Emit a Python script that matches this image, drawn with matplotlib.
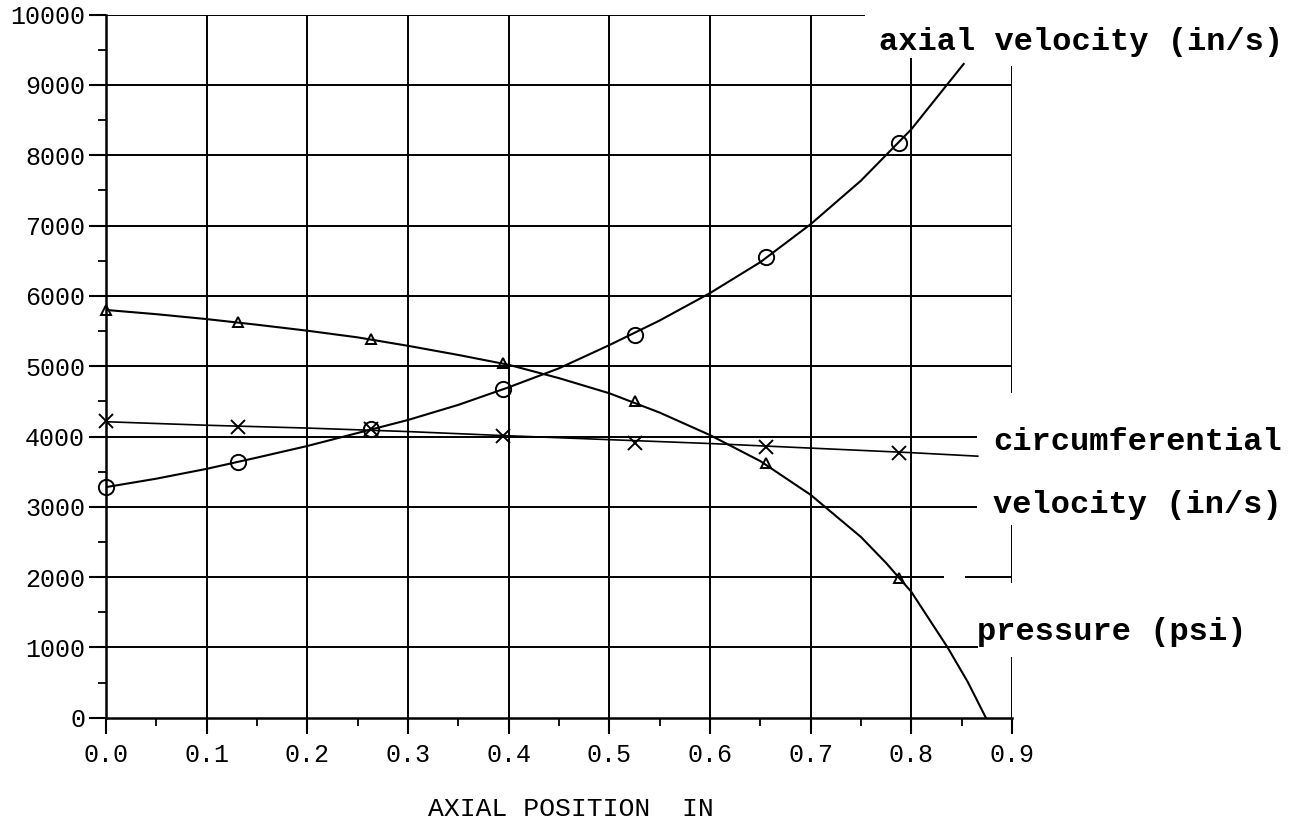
import numpy as np
import matplotlib
matplotlib.use("Agg")
import matplotlib.pyplot as plt
from matplotlib.ticker import MultipleLocator

# measured points (markers)
x_pts = [0.0, 0.131, 0.263, 0.394, 0.525, 0.656, 0.788]
axial_pts = [3280, 3640, 4110, 4670, 5450, 6550, 8170]
pressure_pts = [5800, 5630, 5390, 5050, 4510, 3630, 1990]
circ_pts = [4220, 4140, 4100, 4010, 3910, 3850, 3760]

# fitted curves
axial_cx = [0.0, 0.05, 0.1, 0.15, 0.2, 0.25, 0.3, 0.35, 0.4, 0.45, 0.5,
            0.55, 0.6, 0.65, 0.7, 0.75, 0.8, 0.852]
axial_cy = [3280, 3400, 3540, 3700, 3865, 4050, 4235, 4450, 4700, 4970, 5300,
            5650, 6040, 6480, 7020, 7640, 8370, 9300]

press_cx = [0.0, 0.05, 0.1, 0.15, 0.2, 0.25, 0.3, 0.35, 0.4, 0.45, 0.5,
            0.55, 0.6, 0.65, 0.7, 0.75, 0.775, 0.8, 0.836, 0.856, 0.874]
press_cy = [5800, 5740, 5670, 5590, 5505, 5410, 5290, 5160, 5020, 4830, 4615,
            4340, 4020, 3650, 3170, 2570, 2200, 1790, 1000, 510, 0]

circ_cx = [0.0, 0.1, 0.2, 0.3, 0.4, 0.5, 0.6, 0.7, 0.8, 0.866]
circ_cy = [4210, 4160, 4120, 4070, 4010, 3955, 3900, 3835, 3770, 3720]

x_ticks = [0.0, 0.1, 0.2, 0.3, 0.4, 0.5, 0.6, 0.7, 0.8, 0.9]
y_ticks = [0, 1000, 2000, 3000, 4000, 5000, 6000, 7000, 8000, 9000, 10000]

mono = "Liberation Mono"
W, H = 1291, 825

fig = plt.figure(figsize=(W / 100, H / 100), dpi=100)
ax = fig.add_axes([106 / W, 1 - 717.7 / H, (1012 - 106) / W, (717.7 - 14.7) / H])
ax.set_xlim(0, 0.9)
ax.set_ylim(0, 10000)

# grid, drawn by hand because the lines stop short near the labels
lw = 1.4
for xv in x_ticks[1:8]:
    ax.vlines(xv, 0, 10000, color="black", lw=lw)
ax.vlines(0.8, 0, 9380, color="black", lw=lw)
ax.vlines(0.9, 0, 860, color="black", lw=lw)
ax.vlines(0.9, 1920, 2740, color="black", lw=lw)
ax.vlines(0.9, 4620, 9270, color="black", lw=lw)

ax.hlines(10000, 0, 0.754, color="black", lw=lw)
for yv in [5000, 6000, 7000, 8000, 9000]:
    ax.hlines(yv, 0, 0.9, color="black", lw=lw)
ax.hlines([3000, 4000], 0, 0.865, color="black", lw=lw)
ax.hlines(1000, 0, 0.866, color="black", lw=lw)
ax.hlines(2000, 0, 0.832, color="black", lw=lw)
ax.hlines(2000, 0.853, 0.9, color="black", lw=lw)

# curves
ax.plot(axial_cx, axial_cy, color="black", lw=1.5)
ax.plot(press_cx, press_cy, color="black", lw=1.5)
ax.plot(circ_cx, circ_cy, color="black", lw=1.2)

ax.plot(x_pts, axial_pts, "o", ms=11, mfc="none", mec="black", mew=1.4, clip_on=False)
ax.plot(x_pts, pressure_pts, "^", ms=7, mfc="none", mec="black", mew=1.4, clip_on=False)
ax.plot(x_pts, circ_pts, "x", ms=10, color="black", mew=1.4, clip_on=False)

for s in ["top", "right"]:
    ax.spines[s].set_visible(False)
ax.spines["left"].set_linewidth(1.8)
ax.spines["bottom"].set_linewidth(1.8)

ax.set_xticks(x_ticks)
ax.set_xticklabels(["%.1f" % v for v in x_ticks])
ax.set_yticks(y_ticks)
ax.set_yticklabels([str(v) for v in y_ticks])
ax.xaxis.set_minor_locator(MultipleLocator(0.05))
ax.yaxis.set_minor_locator(MultipleLocator(500))
ax.tick_params(axis="y", which="major", direction="out", length=12, width=1.5, pad=3)
ax.tick_params(axis="y", which="minor", direction="out", length=6, width=1.3)
ax.tick_params(axis="x", which="major", direction="out", length=11.5, width=1.5, pad=7)
ax.tick_params(axis="x", which="minor", direction="out", length=6, width=1.3)
for lab in ax.get_xticklabels() + ax.get_yticklabels():
    lab.set_family(mono)
    lab.set_fontsize(18)

fig.text(571 / W, 1 - 809 / H, "AXIAL POSITION  IN", family=mono, fontsize=19,
         ha="center", va="center")

bold = dict(family=mono, fontsize=23, fontweight="bold", va="baseline", ha="left")
fig.text(879 / W, 1 - 50 / H, "axial velocity (in/s)", **bold)
fig.text(993 / W, 1 - 450 / H, "circumferential", **bold)
fig.text(993 / W, 1 - 513 / H, "velocity (in/s)", **bold)
fig.text(977 / W, 1 - 640 / H, "pressure (psi)", **bold)

fig.savefig("out.png", dpi=100, facecolor="white")
